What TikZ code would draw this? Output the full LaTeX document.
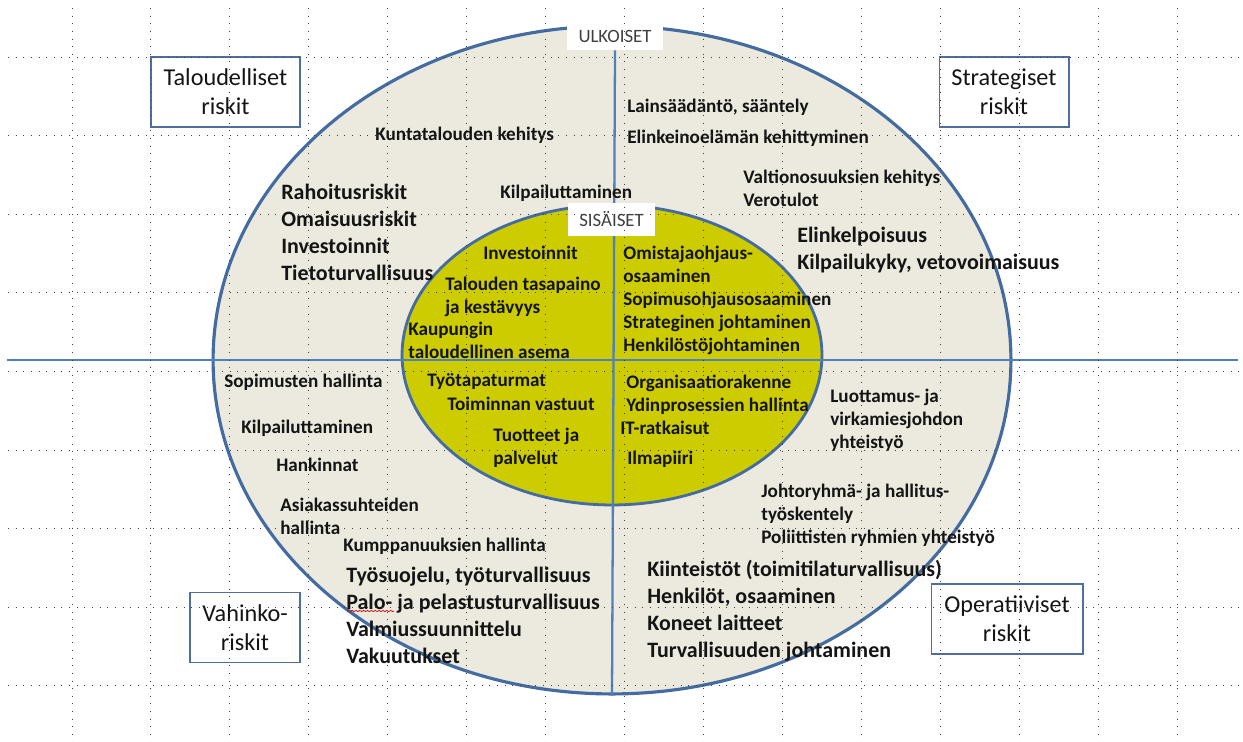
\documentclass[tikz,border=0pt]{standalone}
\usepackage{fontspec}
\setmainfont{Carlito}
\usepackage{xcolor}
\usetikzlibrary{shapes.geometric,decorations.pathmorphing}
\definecolor{ringfill}{RGB}{236,233,222}
\definecolor{corefill}{RGB}{204,204,0}
\definecolor{ringblue}{RGB}{68,108,160}
\definecolor{axisblue}{RGB}{79,129,189}
\definecolor{boxblue}{RGB}{79,110,160}
\definecolor{labelgray}{RGB}{64,64,64}
\definecolor{txt}{RGB}{20,20,20}

\begin{document}
\begin{tikzpicture}[x=0.02cm,y=-0.02cm]
    \tikzstyle{ring}=[ellipse,draw=ringblue,line width=1.8pt,inner sep=0pt] %
    \tikzstyle{axis}=[axisblue,line width=1.3pt] %
    \tikzstyle{tag}=[fill=white,inner sep=0pt,text=labelgray,%
    font=\fontsize{10.7}{12}\selectfont] %
    \tikzstyle{riskbox}=[draw=boxblue,fill=white,line width=0.6pt,align=center,%
    inner sep=0pt,minimum height=1.4cm,text=txt,font=\fontsize{13.8}{16.4}\selectfont] %
    \tikzstyle{mid}=[anchor=north west,align=left,inner sep=0pt,text=txt,yshift=-1.1pt,%
    font=\bfseries\fontsize{10.9}{13}\selectfont] %
    \tikzstyle{big}=[mid,font=\bfseries\fontsize{12.5}{15.3}\selectfont] %
    \tikzstyle{griddot}=[black!75,line width=0.55pt,dash pattern=on 0.55pt off 3.8pt] %

    \useasboundingbox (0,0) rectangle (1243,742);

    \node[ring,fill=ringfill,minimum width=15.96cm,minimum height=13.36cm] (outer) at (612,360) {};
    \node[ring,fill=corefill,line width=1.6pt,minimum width=8.4cm,minimum height=6cm] (inner) at (612,355) {};

    \coordinate (hl) at (7,360);
    \coordinate (hr) at (1238,360);
    \draw[axisblue,line width=0.9pt] (hl) -- (hr);
    \draw[axis,line width=1.7pt] (outer.west) -- (outer.east);

    \node[tag,minimum width=1.92cm,minimum height=0.56cm] (ulk) at (615,36) {ULKOISET};
    \draw[axis] (ulk.south) -- (outer.south);
    \node[tag,minimum width=1.74cm,minimum height=0.66cm] (sis) at (611.5,219.5) {SISÄISET};

    % ulkoiset
    \node[mid] (kehitys) at (375,125) {Kuntatalouden kehitys};
    \node[big] (rahoitus) at (281,182) {Rahoitusriskit\\Omaisuusriskit\\Investoinnit\\Tietoturvallisuus};
    \node[mid] (kilp1) at (500,183) {Kilpailuttaminen};
    \node[mid] (laki) at (627,97) {Lainsäädäntö, sääntely};
    \node[mid] (elinkeino) at (627,128) {Elinkeinoelämän kehittyminen};
    \node[mid] (valtio) at (743,168) {Valtionosuuksien kehitys\\Verotulot};
    \node[big] (elinkelpo) at (797,225) {Elinkelpoisuus\\Kilpailukyky, vetovoimaisuus};
    \node[mid] (sopimus) at (224,372) {Sopimusten hallinta};
    \node[mid] (kilp2) at (241,418) {Kilpailuttaminen};
    \node[mid] (hank) at (276,456) {Hankinnat};
    \node[mid] (asiakas) at (280,496) {Asiakassuhteiden\\hallinta};
    \node[mid] (kumppani) at (343,536) {Kumppanuuksien hallinta};
    \node[big] (tyosuojelu) at (346,565) {Työsuojelu, työturvallisuus\\Palo- ja pelastusturvallisuus\\%
    Valmiussuunnittelu\\Vakuutukset};
    \node[mid] (luottamus) at (830,387) {Luottamus- ja\\virkamiesjohdon\\yhteistyö};
    \node[mid] (johto) at (761,482) {Johtoryhmä- ja hallitus-\\työskentely\\Poliittisten ryhmien yhteistyö};
    \node[big] (kiinteisto) at (647,558) {Kiinteistöt (toimitilaturvallisuus)\\Henkilöt, osaaminen\\%
    Koneet laitteet\\Turvallisuuden johtaminen};

    % sisaiset
    \node[mid] (inv) at (483,244) {Investoinnit};
    \node[mid] (tasapaino) at (445,275) {Talouden tasapaino\\ja kestävyys};
    \node[mid] (asema) at (408,320) {Kaupungin\\taloudellinen asema};
    \node[mid] (omistaja) at (623,244) {Omistajaohjaus-\\osaaminen\\Sopimusohjausosaaminen\\%
    Strateginen johtaminen\\Henkilöstöjohtaminen};
    \node[mid] (tyotapa) at (427,371) {Työtapaturmat};
    \node[mid] (vastuut) at (447,395) {Toiminnan vastuut};
    \node[mid] (tuotteet) at (493,426) {Tuotteet ja\\palvelut};
    \node[mid] (org) at (626,373) {Organisaatiorakenne\\Ydinprosessien hallinta};
    \node[mid] (it) at (620,419) {IT-ratkaisut};
    \node[mid] (ilma) at (627,449) {Ilmapiiri};

    \node[riskbox,minimum width=2.98cm] (talous) at (225.5,92) {Taloudelliset\\riskit};
    \node[riskbox,minimum width=2.6cm] (strat) at (1004,92) {Strategiset\\riskit};
    \node[riskbox,minimum width=2.2cm] (vahinko) at (245,627.5) {Vahinko-\\riskit};
    \node[riskbox,minimum width=3.04cm] (oper) at (1007,619) {Operatiiviset\\riskit};

    \draw[red!85!black,line width=0.4pt,decorate,%
    decoration={snake,amplitude=0.35pt,segment length=2.2pt}] (347,611) -- (394,611);

    \foreach \i in {0,...,14}
        \draw[griddot] ({72+78.93*\i},8) -- ({72+78.93*\i},742);
    \foreach \j in {0,...,8}
        \draw[griddot] (8,{57+78.6*\j}) -- (1243,{57+78.6*\j});
\end{tikzpicture}
\end{document}
